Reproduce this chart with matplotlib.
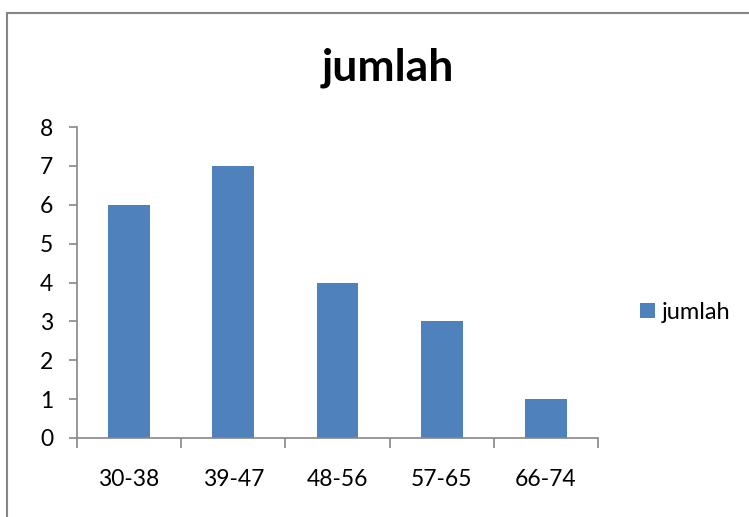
import matplotlib.pyplot as plt
from matplotlib.patches import Rectangle

categories = ["30-38", "39-47", "48-56", "57-65", "66-74"]
jumlah = [6, 7, 4, 3, 1]

plt.rcParams['font.family'] = ['Lato', 'DejaVu Sans']

fig = plt.figure(figsize=(7.49, 5.17), dpi=100)
fig.patch.set_facecolor('white')

# chart frame (runs off the right/bottom edge like the screenshot)
fig.patches.append(Rectangle((7 / 749, -0.1), 1.2, 1 - 13 / 517 + 0.1,
                             transform=fig.transFigure, fill=False,
                             edgecolor='#868686', linewidth=1.5))

ax = fig.add_axes([77 / 749, 1 - 438 / 517, (598 - 77) / 749, (438 - 127) / 517])
x = range(len(categories))
ax.bar(x, jumlah, width=0.4, color='#4F81BD', label='jumlah')

ax.set_xlim(-0.5, len(categories) - 0.5)
ax.set_ylim(0, 8)
ax.set_yticks(range(0, 9))
ax.set_xticks(list(x))
ax.set_xticklabels(categories)
ax.set_xticks([i - 0.5 for i in range(len(categories) + 1)], minor=True)

for side in ['top', 'right']:
    ax.spines[side].set_visible(False)
for side in ['left', 'bottom']:
    ax.spines[side].set_color('#868686')
    ax.spines[side].set_linewidth(1.2)

ax.tick_params(axis='y', length=6, color='#868686', width=1.2, labelsize=16.5, pad=11)
ax.tick_params(axis='x', which='major', length=0, labelsize=16.5, pad=22)
ax.tick_params(axis='x', which='minor', length=7, color='#868686', width=1.2)

fig.text(388 / 749, 1 - 68 / 517, "jumlah", ha='center', va='center',
         fontsize=32, fontweight='bold')

ax.legend(loc='center left', bbox_to_anchor=(1.08, 0.405), frameon=False,
          fontsize=17, handlelength=0.63, handleheight=0.63, handletextpad=0.3,
          borderaxespad=0, borderpad=0)

fig.savefig("out.png", dpi=100)
